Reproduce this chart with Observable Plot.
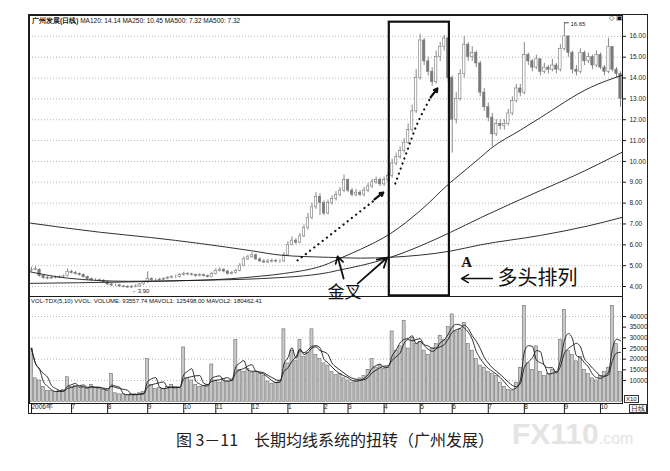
<!DOCTYPE html>
<html><head><meta charset="utf-8">
<script src="https://cdn.jsdelivr.net/npm/d3@7"></script>
<script src="https://cdn.jsdelivr.net/npm/@observablehq/plot@0.6"></script>
<style>
body{margin:0;background:#fff;}
#wrap{position:relative;width:670px;height:471px;overflow:hidden;font-family:"Liberation Sans",Arial,sans-serif;color:#111;}
.abs{position:absolute;white-space:nowrap;line-height:1;}
#price,#vol{position:absolute;left:0;}
#price{top:0;} #vol{top:296px;}
#border{position:absolute;left:28px;top:14px;width:618px;height:398px;border:1px solid #222;}
.box{border:1px solid #333;padding:0 1px;}
</style></head><body><div id="wrap">
<div id="border"></div>
<div id="price"></div>
<div id="vol"></div>
<div class="abs" style="left:32px;top:18px;font-size:6.5px;"><b>广州发展(日线)</b> MA120: 14.14 MA250: 10.45 MA500: 7.32 MA500: 7.32</div>
<div class="abs" style="left:609px;top:14px;font-size:7px;">◇ ▣</div>
<div class="abs" style="left:31px;top:298px;font-size:6px;">VOL-TDX(5,10) VVOL: VOLUME: 93557.74 MAVOL1: 125498.00 MAVOL2: 180462.41</div>
<div class="abs box" style="left:624px;top:395px;font-size:6px;">X10</div>
<div class="abs box" style="left:629px;top:404px;font-size:7px;">日线</div>
<div class="abs" style="left:0;width:670px;top:431px;text-align:center;font-size:16px;font-family:'Noto Sans CJK SC';color:#222;">图 3－11　长期均线系统的扭转（广州发展）</div>
<div class="abs" style="left:512px;top:419px;font-size:30px;font-weight:bold;color:#e4e4e4;">FX110<span style="font-size:16px;font-weight:normal;">.com</span></div>
</div>
<script>
// ---- price bars (each bar ≈ 2 trading days) ----
const open = [
4.75,4.80,4.80,4.50,4.40,4.38,4.40,4.42,4.45,4.50,
4.70,4.65,4.60,4.55,4.45,4.35,4.30,4.30,4.28,4.20,
4.10,4.05,4.05,4.00,3.98,3.95,3.97,4.00,4.10,4.20,
4.35,4.30,4.30,4.32,4.35,4.40,4.45,4.45,4.55,4.60,
4.58,4.55,4.50,4.55,4.50,4.45,4.60,4.75,4.80,4.72,
4.60,4.65,4.75,5.00,5.30,5.40,5.50,5.30,5.20,5.15,
5.20,5.22,5.20,5.20,5.50,6.00,6.20,6.10,6.40,6.80,
7.30,7.80,8.30,8.00,7.50,8.00,8.20,8.40,8.60,9.10,
8.60,8.40,8.50,8.40,8.60,8.80,9.00,9.10,8.90,9.10,
9.30,9.90,10.20,10.50,10.90,11.50,12.40,14.00,15.80,14.80,
14.30,13.80,15.00,15.50,15.90,14.00,12.00,13.00,14.20,15.60,
15.00,15.20,14.70,13.30,12.60,12.10,11.30,11.80,11.70,11.80,
12.30,12.90,13.50,13.30,15.10,14.80,14.50,14.90,14.30,14.50,
14.40,14.60,14.40,15.40,16.00,15.20,14.40,14.30,15.20,14.80,
15.00,14.60,15.10,14.50,14.30,15.50,14.40,14.20];
const high = [
4.92,4.95,4.85,4.55,4.48,4.48,4.50,4.52,4.55,4.85,
4.78,4.72,4.65,4.60,4.50,4.40,4.38,4.36,4.32,4.25,
4.15,4.12,4.10,4.06,4.04,4.05,4.08,4.15,4.25,4.70,
4.42,4.38,4.40,4.42,4.48,4.52,4.55,4.62,4.68,4.66,
4.64,4.60,4.62,4.60,4.55,4.68,4.85,4.90,4.86,4.78,
4.72,4.82,5.10,5.42,5.50,5.62,5.55,5.38,5.30,5.30,
5.32,5.30,5.28,5.62,6.15,6.38,6.30,6.55,6.95,7.50,
8.00,8.50,8.45,8.10,8.15,8.35,8.55,8.75,9.35,9.15,
8.70,8.65,8.60,8.75,8.95,9.15,9.25,9.20,9.25,9.45,
10.10,10.40,10.70,11.10,11.80,12.70,14.40,16.10,15.90,15.00,
14.50,15.30,15.70,16.05,15.90,14.10,13.30,14.40,16.00,15.70,
15.50,15.30,14.80,13.50,12.80,12.30,12.00,12.00,12.00,12.50,
13.10,13.70,13.70,15.70,15.20,14.90,15.10,14.90,14.70,14.60,
14.90,14.70,15.60,16.65,16.00,15.30,14.60,15.40,15.30,15.20,
15.10,15.30,15.20,14.60,15.90,15.50,14.50,14.30];
const low = [
4.70,4.75,4.45,4.35,4.32,4.34,4.36,4.38,4.40,4.45,
4.60,4.55,4.50,4.40,4.30,4.25,4.24,4.22,4.15,4.05,
4.00,3.99,3.95,3.93,3.91,3.90,3.93,3.96,4.05,4.15,
4.25,4.24,4.26,4.28,4.32,4.36,4.38,4.40,4.50,4.52,
4.50,4.45,4.46,4.44,4.40,4.42,4.55,4.70,4.65,4.55,
4.55,4.60,4.70,4.95,5.25,5.35,5.25,5.15,5.10,5.10,
5.12,5.12,5.12,5.15,5.45,5.95,6.00,6.05,6.35,6.70,
7.20,7.70,7.40,7.40,7.45,7.90,8.10,8.30,8.50,8.50,
8.30,8.30,8.30,8.30,8.50,8.70,8.90,8.80,8.80,9.00,
9.20,9.80,10.10,10.40,10.80,11.40,12.30,13.90,14.60,14.10,
13.60,13.70,14.80,15.30,13.80,10.40,11.80,12.90,14.00,14.80,
14.80,14.50,13.10,12.40,11.90,10.70,11.20,11.50,11.50,11.70,
12.20,12.80,13.10,13.20,14.60,14.30,14.40,14.10,14.20,14.20,
14.30,14.20,14.30,15.30,15.00,14.20,14.10,14.20,14.60,14.70,
14.40,14.50,14.40,14.10,14.20,14.30,14.00,12.60];
const close = [
4.80,4.85,4.50,4.40,4.38,4.40,4.42,4.45,4.48,4.70,
4.65,4.60,4.55,4.45,4.35,4.30,4.30,4.28,4.20,4.10,
4.05,4.05,4.00,3.98,3.95,3.97,4.00,4.10,4.20,4.35,
4.30,4.30,4.32,4.35,4.40,4.45,4.45,4.55,4.60,4.58,
4.55,4.50,4.55,4.50,4.45,4.60,4.75,4.80,4.72,4.60,
4.65,4.75,5.00,5.30,5.40,5.50,5.30,5.20,5.15,5.20,
5.22,5.20,5.20,5.50,6.00,6.20,6.10,6.40,6.80,7.30,
7.80,8.30,8.00,7.50,8.00,8.20,8.40,8.60,9.10,8.60,
8.40,8.50,8.40,8.60,8.80,9.00,9.10,8.90,9.10,9.30,
9.90,10.20,10.50,10.90,11.50,12.40,14.00,15.80,14.80,14.30,
13.80,15.00,15.50,15.90,14.00,12.00,13.00,14.20,15.60,15.00,
15.20,14.70,13.30,12.60,12.10,11.30,11.80,11.70,11.80,12.30,
12.90,13.50,13.30,15.10,14.80,14.50,14.90,14.30,14.50,14.40,
14.60,14.40,15.40,16.00,15.20,14.40,14.30,15.20,14.80,15.00,
14.60,15.10,14.50,14.30,15.50,14.40,14.20,13.00];
const volume = [
25000,11000,10000,7000,5000,5000,4500,5000,5500,11500,
7000,7500,6500,7000,6000,8000,6500,6000,5500,5000,
13000,4000,3500,3500,3000,3500,3500,4000,4500,20000,
8000,6000,6500,6000,7000,8000,6000,6500,25500,11000,
10000,8000,7000,7500,8000,17500,10000,9000,10500,9500,
10500,29000,15000,14000,15500,13500,14000,13000,12000,9500,
8500,9000,10000,34000,18000,24000,19000,29000,21000,23000,
34000,22000,20000,18000,17000,14000,12500,13000,11000,10000,
9000,10000,11000,12000,15000,20000,16000,17000,15500,16000,
33000,24000,26000,38000,25000,30000,27000,28000,24000,22000,
25000,27000,31000,29000,35000,41000,33000,34000,37000,27000,
24000,20000,17000,16000,14000,13000,12000,9000,7000,5500,
5000,9000,16000,45000,18000,15000,26000,14000,12000,13000,
15000,14000,29000,43000,24000,22000,19000,21000,15000,13000,
11000,10000,12000,14000,16000,45000,27000,14000];

// ---- moving averages (bar position, price) ----
const ma120X = [0.25, 9.5, 24.7, 42.7, 57.9, 63.4, 74.6, 76.9, 82.6, 90.1, 97.6, 105.1, 107.6, 112.6, 115.0, 122.5, 127.5, 140.0, 148];
const ma120Y = [4.70, 4.40, 4.25, 4.30, 4.50, 4.62, 5.10, 5.30, 5.78, 6.54, 7.65, 9.00, 9.40, 10.20, 10.60, 11.50, 12.10, 13.55, 14.14];
const ma250X = [0.25, 24.7, 42.7, 57.9, 74.6, 76.9, 82.6, 90.1, 97.6, 105.1, 112.6, 127.5, 135.8, 148];
const ma250Y = [4.15, 4.22, 4.30, 4.38, 4.67, 4.77, 5.00, 5.40, 5.95, 6.60, 7.30, 8.60, 9.30, 10.45];
const ma500X = [0.25, 17.7, 30.2, 42.7, 55.2, 62.9, 74.6, 82.6, 90.1, 105.1, 112.6, 127.5, 139.3, 148];
const ma500Y = [7.04, 6.60, 6.35, 6.06, 5.72, 5.50, 5.40, 5.36, 5.40, 5.70, 6.00, 6.45, 6.90, 7.32];

// ---- axes ----
const priceTicks = [4,5,6,7,8,9,10,11,12,13,14,15,16];
const volTicks = [10000,15000,20000,25000,30000,35000,40000];
const volGrid = [10000,20000,30000,40000];
const monthStarts = [0,10,19,29,38,46,55,64,73,79,88,97,105,114,123,133,142];
const monthLabels = ["2006年","7","8","9","10","11","12","1","2","3","4","5","6","7","8","9","10"];

// ---- annotations (bar position, price) ----
const boxRegion = [{x1: 89.8, x2: 104.8, y1: 3.55, y2: 16.68}];
const dotPath1 = [{x: 66.9, y: 5.25}, {x: 77.1, y: 6.78}, {x: 86.6, y: 8.22}];
const dotPath2 = [{x: 91.3, y: 8.94}, {x: 94.3, y: 10.53}, {x: 96.8, y: 11.82}, {x: 99.3, y: 12.78}, {x: 100.3, y: 13.12}];
const dotHeads = [{x1: 86.1, y1: 8.18, x2: 88.3, y2: 8.51}, {x1: 100.1, y1: 13.07, x2: 101.8, y2: 13.50}];
const crossArrows = [{x1: 78.4, y1: 4.38, x2: 76.9, y2: 5.44}, {x1: 81.9, y1: 4.14, x2: 89.3, y2: 5.39}];
const crossLabel = [{x: 78.6, y: 3.71, t: "金叉"}];
const aLabel = [{x: 109.1, y: 5.15, t: "A"}];
const bullArrow = [{x1: 115.5, y1: 4.38, x2: 107.8, y2: 4.38}];
const bullLabel = [{x: 116.8, y: 4.38, t: "多头排列"}];
const highMark = [{x: 133.5, y: 16.65, t: "16.65"}];
const lowMark = [{x: 25.5, y: 3.90, t: "←3.90"}];

const N = close.length;
const bars = close.map((c, i) => ({i, o: open[i], h: high[i], l: low[i], c, v: volume[i]}));
const pts = (xs, ys) => xs.map((x, k) => ({x, y: ys[k]}));
const ink = "#1a1a1a", candle = "#7a7a7a";

const price = Plot.plot({
  width: 670, height: 298,
  marginLeft: 29, marginRight: 48, marginTop: 15, marginBottom: 2,
  x: {domain: [0, N], axis: null},
  y: {domain: [3.52, 17.0], axis: null},
  style: {fontFamily: "Liberation Sans, Arial, sans-serif", fontSize: "6.5px", background: "transparent", overflow: "visible", color: ink},
  marks: [
    Plot.ruleY(priceTicks, {stroke: "#999", strokeWidth: 0.7, strokeDasharray: "1,2"}),
    Plot.ruleX(bars, {x: d => d.i + 0.5, y1: "l", y2: "h", stroke: candle, strokeWidth: 0.9}),
    Plot.rect(bars, {x1: d => d.i + 0.2, x2: d => d.i + 0.8, y1: "o", y2: "c",
      fill: d => d.c >= d.o ? "#fff" : candle, stroke: candle, strokeWidth: 0.6}),
    Plot.line(pts(ma500X, ma500Y), {x: "x", y: "y", stroke: ink, strokeWidth: 0.9, curve: "monotone-x"}),
    Plot.line(pts(ma250X, ma250Y), {x: "x", y: "y", stroke: ink, strokeWidth: 0.9, curve: "monotone-x"}),
    Plot.line(pts(ma120X, ma120Y), {x: "x", y: "y", stroke: ink, strokeWidth: 0.9, curve: "monotone-x"}),
    Plot.frame({stroke: ink}),
    Plot.axisY({anchor: "right", ticks: priceTicks, tickFormat: d => d.toFixed(2), tickSize: 3, tickPadding: 4, stroke: ink, label: null}),
    Plot.rect(boxRegion, {x1: "x1", x2: "x2", y1: "y1", y2: "y2", fill: "none", stroke: "#111", strokeWidth: 2.2}),
    Plot.line(dotPath1, {x: "x", y: "y", stroke: "#111", strokeWidth: 2.2, strokeDasharray: "0.1,5.2", strokeLinecap: "round", curve: "catmull-rom"}),
    Plot.line(dotPath2, {x: "x", y: "y", stroke: "#111", strokeWidth: 2.2, strokeDasharray: "0.1,5.2", strokeLinecap: "round", curve: "catmull-rom"}),
    Plot.arrow(dotHeads, {x1: "x1", y1: "y1", x2: "x2", y2: "y2", stroke: "#111", strokeWidth: 2.2, headLength: 9}),
    Plot.arrow(crossArrows, {x1: "x1", y1: "y1", x2: "x2", y2: "y2", stroke: "#111", strokeWidth: 1.8, headLength: 9}),
    Plot.arrow(bullArrow, {x1: "x1", y1: "y1", x2: "x2", y2: "y2", stroke: "#111", strokeWidth: 1.5, headLength: 8}),
    Plot.text(crossLabel, {x: "x", y: "y", text: "t", fontSize: 17, fontFamily: "Noto Sans CJK SC", fill: "#111"}),
    Plot.text(aLabel, {x: "x", y: "y", text: "t", fontSize: 15, fontWeight: "bold", fontFamily: "Liberation Serif", fill: "#111"}),
    Plot.text(bullLabel, {x: "x", y: "y", text: "t", fontSize: 20, textAnchor: "start", fontFamily: "Noto Sans CJK SC", fill: "#111"}),
    Plot.link(highMark, {x1: "x", x2: d => d.x + 1.1, y1: "y", y2: "y", stroke: ink, strokeWidth: 0.8}),
    Plot.text(highMark, {x: "x", y: "y", text: "t", dx: 6, dy: 1, textAnchor: "start", fontSize: 6, fill: ink}),
    Plot.text(lowMark, {x: "x", y: "y", text: "t", dy: 2, textAnchor: "start", fontSize: 6, fill: ink})
  ]
});
document.getElementById("price").appendChild(price);

const monthMap = new Map(monthStarts.map((m, k) => [m, monthLabels[k]]));
const vol = Plot.plot({
  width: 670, height: 118,
  marginLeft: 29, marginRight: 48, marginTop: 0, marginBottom: 11,
  x: {domain: [0, N], axis: null},
  y: {domain: [-800, 49400], axis: null},
  style: {fontFamily: "Liberation Sans, Arial, sans-serif", fontSize: "6.5px", background: "transparent", overflow: "visible", color: ink},
  marks: [
    Plot.ruleY(volGrid, {stroke: "#999", strokeWidth: 0.7, strokeDasharray: "1,2"}),
    Plot.rectY(bars, {x1: d => d.i + 0.12, x2: d => d.i + 0.88, y: "v", fill: "#c8c8c8", stroke: "#5a5a5a", strokeWidth: 0.5}),
    Plot.lineY(bars, Plot.windowY({k: 3, anchor: "end"}, {x: d => d.i + 0.5, y: "v", stroke: ink, strokeWidth: 0.9, curve: "monotone-x"})),
    Plot.lineY(bars, Plot.windowY({k: 5, anchor: "end"}, {x: d => d.i + 0.5, y: "v", stroke: ink, strokeWidth: 0.9, curve: "monotone-x"})),
    Plot.frame({stroke: ink}),
    Plot.axisY({anchor: "right", ticks: volTicks, tickFormat: d => String(d), tickSize: 3, tickPadding: 4, stroke: ink, label: null}),
    Plot.axisX({ticks: monthStarts, tickFormat: d => monthMap.get(d), tickSize: 10, tickPadding: -9, textAnchor: "start", dx: 2, stroke: ink, label: null})
  ]
});
document.getElementById("vol").appendChild(vol);
</script>
</body></html>
